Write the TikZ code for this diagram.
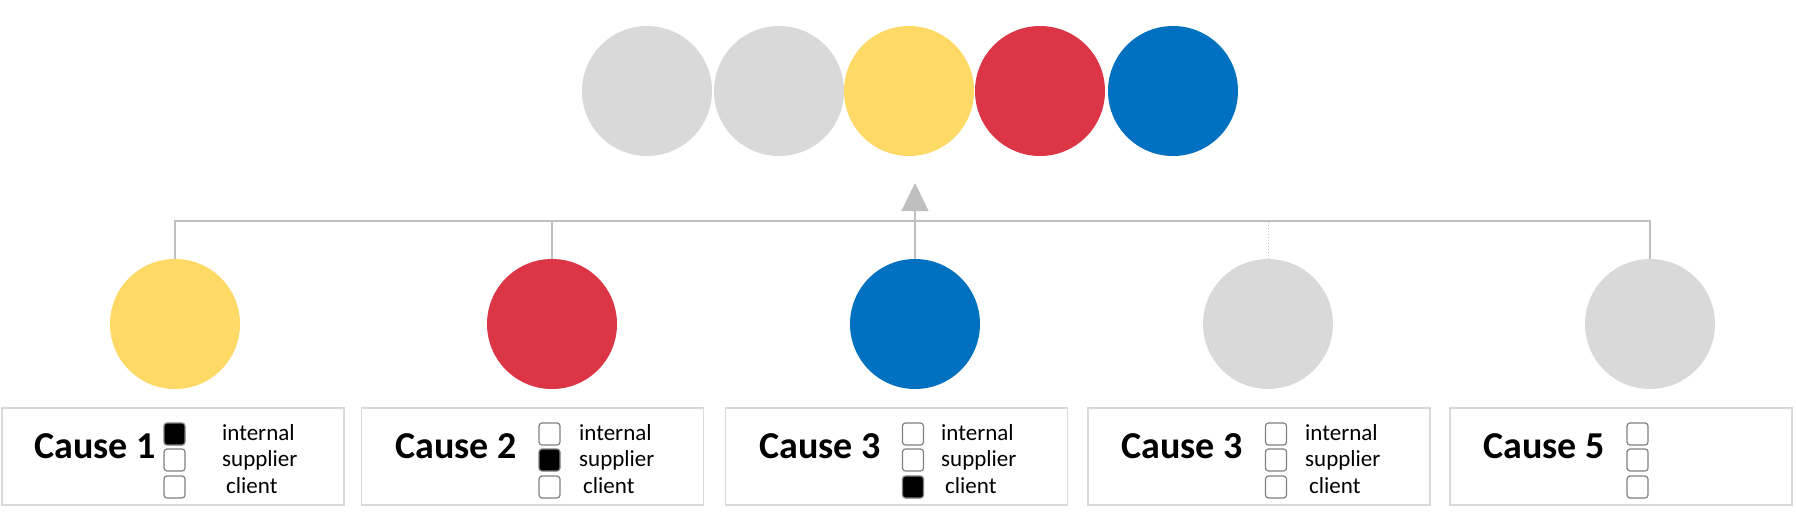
\documentclass[tikz,border=0pt]{standalone}
\usepackage{fontspec}
\setmainfont{Carlito}
\usetikzlibrary{arrows.meta}
\definecolor{sun}{HTML}{FFD966}
\definecolor{brick}{HTML}{DC3545}
\definecolor{sea}{HTML}{0070C0}
\definecolor{fog}{HTML}{D9D9D9}
\definecolor{wire}{HTML}{BFBFBF}

\begin{document}
\begin{tikzpicture}[x=1pt,y=-1pt,
  dot/.style={circle,inner sep=0,minimum size=130pt},
  card/.style={draw=fog,line width=1.8pt,minimum width=342pt,minimum height=97pt,inner sep=0},
  tickbox/.style={draw=black!50,line width=1.2pt,rounded corners=3pt,minimum width=21pt,minimum height=22pt,inner sep=0},
  word/.style={anchor=base west,inner sep=0,font=\fontsize{23}{23}\selectfont},
  title/.style={anchor=base west,inner sep=0,font=\fontsize{38}{38}\selectfont\bfseries},
  link/.style={draw=wire,line width=1.5pt}]
  \useasboundingbox (0,0) rectangle (1796,517);
  % top row
  \foreach \n/\x/\c in {t1/647/fog,t2/779/fog,t3/909/sun,t4/1040/brick,t5/1173/sea}
    \node[dot,fill=\c] (\n) at (\x,91) {};
  % causes
  \foreach \n/\x/\c in {c1/175/sun,c2/552/brick,c3/915/sea,c4/1268/fog,c5/1650/fog}
    \node[dot,fill=\c] (\n) at (\x,324) {};
  % cards
  \foreach \n/\x/\tx/\kx/\t/\on in {1/173/34/174.5/Cause 1/1,2/532.5/395/549.5/Cause 2/2,
      3/896.5/759/913/Cause 3/3,4/1259/1121/1276/Cause 3/0,5/1621/1483/1637.5/Cause 5/0}{
    \node[card] (card\n) at (\x,456.5) {};
    \node[title] (cause\n) at (\tx,458) {\t};
    \foreach \k/\y in {1/434,2/460,3/487}{
      \edef\fc{\ifnum\k=\on black\else white\fi}
      \node[tickbox,fill=\fc] (box\n\k) at (\kx,\y) {};
    }
  }
  \foreach \n/\lx in {1/222,2/579,3/941,4/1305}{
    \node[word] (int\n) at (\lx,440) {internal};
    \node[word] (sup\n) at (\lx,466) {supplier};
    \node[word] (cli\n) at (\lx+4,493) {client};
  }
  % links
  \coordinate (bus) at (0,221);
  \coordinate (top) at (915,183);
  \draw[link] (c1.north) -- (c1.north |- bus) -- (c5.north |- bus) -- (c5.north);
  \draw[link] (c2.north) -- (c2.north |- bus);
  \draw[link,line width=1pt,dotted] (c4.north) -- (c4.north |- bus);
  \draw[link,-{Triangle[width=27pt,length=28pt]}] (c3.north) -- (top);
\end{tikzpicture}
\end{document}
